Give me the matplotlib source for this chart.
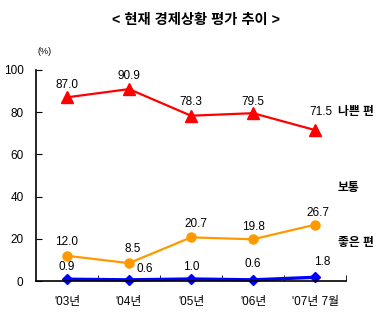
import matplotlib as mpl
mpl.use('Agg')
import matplotlib.pyplot as plt

plt.rcParams['font.family'] = ['Liberation Sans', 'Noto Sans CJK KR']

years = ["'03년", "'04년", "'05년", "'06년", "'07년 7월"]
bad = [87.0, 90.9, 78.3, 79.5, 71.5]
good = [12.0, 8.5, 20.7, 19.8, 26.7]
normal = [0.9, 0.6, 1.0, 0.6, 1.8]

fig = plt.figure(figsize=(3.91, 3.22), dpi=100)
ax = fig.add_axes([0.092, 0.127, 0.793, 0.656])

x = list(range(len(years)))
ax.plot(x, bad, '-', color='#ff0000', lw=1.6, marker='^', ms=8, clip_on=False)
ax.plot(x, good, '-', color='#ff9900', lw=1.6, marker='o', ms=6.5, clip_on=False)
ax.plot(x, normal, '-', color='#0000ff', lw=2.4, marker='D', ms=5.5, clip_on=False)

fs = 8.5
# label offsets in pixels (dx, dy up)
bad_off = [(0, 12), (0, 13), (0, 14), (0, 11), (6, 18)]
good_off = [(0, 14), (4, 14), (5, 13), (0, 12), (3, 12)]
norm_off = [(0, 12), (16, 11), (0, 12), (0, 16), (7, 15)]
for vals, offs in [(bad, bad_off), (good, good_off), (normal, norm_off)]:
    for i in x:
        dx, dy = offs[i]
        ax.annotate(f'{vals[i]:.1f}', (i, vals[i]), xytext=(dx * 0.72, dy * 0.72),
                    textcoords='offset points', ha='center', va='center', fontsize=fs)

# series names on the right, in figure pixels
names = ['나쁜 편', '보통', '좋은 편']
name_y = [112, 188, 243]
for name, py in zip(names, name_y):
    fig.text(338 / 391, 1 - py / 322, name, fontsize=8.5, fontweight='bold',
             va='center', ha='left')

ax.set_xlim(-0.5, 4.5)
ax.set_ylim(0, 100)
ax.set_yticks([0, 20, 40, 60, 80, 100])
ax.set_xticks(x)
ax.set_xticklabels(years, fontsize=fs)
ax.set_xticks([0.5, 1.5, 2.5, 3.5, 4.5], minor=True)
ax.tick_params(axis='x', which='major', length=0, pad=11)
ax.tick_params(axis='x', which='minor', direction='in', length=4)
ax.tick_params(axis='y', direction='in', length=4, labelsize=fs, pad=9)
for s in ['top', 'right']:
    ax.spines[s].set_visible(False)
ax.spines['left'].set_linewidth(1.2)
ax.spines['bottom'].set_linewidth(1.2)

fig.text(45 / 391, 1 - 52 / 322, '(%)', fontsize=6.5, ha='center', va='center')
fig.text(0.5, 1 - 20 / 322, '< 현재 경제상황 평가 추이 >', fontsize=10.3, fontweight='bold',
         ha='center', va='center')

fig.savefig('out.png', dpi=100)
